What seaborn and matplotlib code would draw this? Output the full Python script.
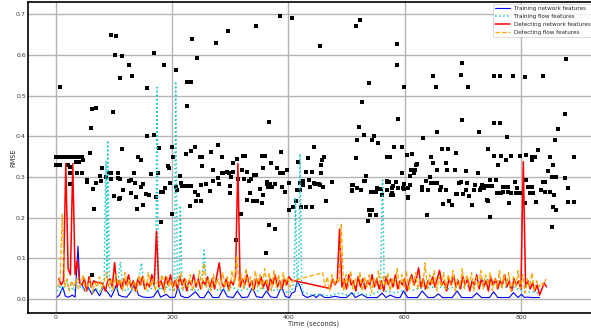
import numpy as np
import matplotlib
matplotlib.use("Agg")
import matplotlib.pyplot as plt
import seaborn as sns

# RMSE per sample (black dots)
dot_x = [
    0.6, 3.4, 9, 12, 15, 18, 21, 24, 29.5, 32,
    36.5, 41, 45, 0.6, 6.3, 21, 25, 35, 39, 46.5,
    59, 23.6, 36, 45, 24.7, 53.5, 53.5, 63, 69, 77,
    75, 79, 87, 91, 94, 95, 114, 106, 110, 106,
    100, 110, 115.5, 125, 130, 134.5, 136, 150, 147, 129,
    138.5, 150, 140, 65.5, 155, 160, 141, 146, 164, 173,
    180.5, 184.5, 187, 196, 175, 193, 194, 200.6, 199, 200,
    206, 208.6, 216, 217, 222, 226, 232, 213, 223, 231.6,
    239, 247.7, 252, 250.6, 239, 245, 241, 249, 230, 249,
    257.5, 265, 266.7, 269.5, 270.7, 278, 285, 285, 288, 279,
    280.5, 295, 108, 7.5,
    # outliers
    95, 103, 102, 113, 125, 110, 131, 61.5, 69, 60,
    99, 168, 157, 186, 206, 234, 242, 226, 233, 226,
    276, 296, 344, 386, 406, 367, 157, 169, 178, 62.6,
    181, 309, 361.5, 366.7, 377.6, 536.8, 853, 454.1, 516, 522.4,
    587.3, 586.8, 538.5, 598, 526.4, 588, 521.8, 530, 547, 648,
    653.5, 698.3, 697.2, 708.6, 752.9, 764, 787, 807.5, 837.4, 877.6,
    875.9,
    # middle block
    311.5, 322, 326, 354, 360, 388, 370, 305, 304.6, 297,
    320, 329, 340.2, 344.8, 301.7, 314, 323, 335.6, 331.6, 356.3,
    380, 385, 390, 397.7, 300, 299, 363, 368.8, 377.4, 363,
    364.9, 371.8, 389, 350.6, 333.3, 356.3, 328.7, 339, 346, 354,
    319, 394.8, 400.5, 400.5, 408, 421.8, 430.5, 439.7, 413.8, 415,
    419.5, 419.5, 434.8, 445, 453.4, 437, 425.3, 465.5, 475.3, 430.5,
    440.2, 456.3, 456.3, 457.5, 461.5, 416, 433.3, 443.7, 518.4, 544,
    554, 581.6, 596, 515.8, 569, 574.5, 604.6, 613, 532.8, 531,
    511.5, 509.8, 524, 544, 550, 552.8, 570.4, 585.5, 573, 580.5,
    597.7, 570.4, 579, 561.5, 606, 610, 596, 611.5, 618, 616,
    619, 538.5, 544, 541, 550,
    424.6, 435, 444.6, 454.4, 459, 474.5, 508.9, 508.9, 518.1, 524.4,
    530.7, 542.2, 547.4, 556, 558.8, 569.8, 578.4, 579.5, 576.1, 589.3,
    598.3, 599.4, 606.3, 605.2, 609.9, 619.7,
    # right block
    655, 727, 631.6, 776, 863.2, 858.6, 754, 764.4, 698.3, 829,
    665, 675.3, 688, 742.5, 645, 752.8, 765.5, 782.8, 798.9, 808.6,
    818.9, 824, 850, 891, 774, 818.9, 649, 671, 759.7, 854.6,
    620.7, 656, 673.6, 686.2, 705.2, 726.4, 847, 853, 860.3, 876.5,
    643.7, 637.4, 837.4, 841.4, 808.6, 747, 757, 790, 645, 650.6,
    656.3, 696.6, 693.7, 707, 629, 662, 721.3, 733, 739.7, 742.5,
    750, 768.4, 771.3, 778, 793.1, 818.3, 812, 880.5, 735.6, 731,
    640.8, 630.5, 660.3, 671.3, 706.3, 718.4, 729.3, 834.5, 841.4, 850,
    769.5, 777.6, 802.6, 798.6, 758, 761.5, 765.5, 782.8, 791.4, 816,
    821.3, 688, 690.8, 701, 711.5, 857, 743.7, 740.8, 676.4, 826,
    880.5, 891, 779.9, 806.9, 666, 715.5, 681, 856, 861, 639,
    747,
]
dot_y = [
    .35, .35, .35, .35, .35, .35, .35, .35, .35, .35,
    .35, .35, .35, .329, .329, .329, .325, .338, .338, .342,
    .36, .309, .309, .309, .282, .292, .287, .271, .286, .29,
    .303, .321, .301, .309, .294, .309, .37, .297, .294, .31,
    .253, .248, .269, .29, .292, .31, .286, .284, .276, .262,
    .25, .232, .222, .221, .258, .256, .35, .342, .307, .25,
    .264, .264, .272, .286, .309, .327, .321, .35, .373, .21,
    .276, .268, .286, .277, .277, .277, .277, .303, .357, .365,
    .375, .35, .35, .327, .264, .257, .242, .241, .23, .28,
    .284, .266, .362, .291, .317, .379, .35, .309, .309, .297,
    .284, .312, .246, .52,
    .65, .647, .60, .597, .575, .543, .549, .467, .47, .42,
    .46, .605, .518, .575, .563, .64, .593, .533, .533, .475,
    .63, .659, .67, .696, .69, .434, .40, .403, .372, .06,
    .189, .145, .114, .182, .172, .192, .178, .623, .67, .685,
    .628, .576, .53, .521, .485, .443, .422, .403, .401, .548,
    .52, .579, .55, .521, .548, .548, .548, .545, .548, .589,
    .455,
    .344, .352, .352, .352, .352, .362, .335, .334, .313, .309,
    .317, .313, .306, .306, .301, .294, .294, .294, .291, .321,
    .321, .309, .309, .317, .278, .262, .284, .284, .284, .288,
    .276, .276, .276, .271, .26, .256, .244, .24, .24, .237,
    .21, .264, .286, .22, .227, .227, .227, .227, .24, .268,
    .268, .286, .292, .284, .284, .276, .291, .241, .288, .313,
    .313, .309, .329, .342, .35, .338, .346, .375, .39, .39,
    .383, .375, .375, .346, .35, .35, .354, .357, .303, .291,
    .28, .268, .268, .264, .264, .272, .288, .288, .288, .277,
    .272, .269, .26, .256, .25, .28, .309, .317, .317, .309,
    .329, .22, .22, .207, .207,
    .28, .293, .286, .28, .276, .288, .28, .266, .274, .268,
    .291, .263, .263, .271, .271, .29, .274, .257, .256, .274,
    .283, .27, .274, .249, .302, .329,
    .411, .411, .397, .399, .417, .391, .433, .433, .44, .366,
    .369, .369, .36, .369, .35, .351, .351, .351, .351, .354,
    .35, .35, .35, .35, .342, .342, .335, .335, .33, .33,
    .331, .317, .317, .317, .314, .31, .314, .3, .3, .297,
    .3, .29, .288, .288, .292, .292, .292, .288, .286, .286,
    .286, .288, .285, .285, .276, .276, .28, .28, .278, .278,
    .278, .276, .276, .276, .274, .276, .276, .272, .272, .272,
    .268, .268, .268, .268, .268, .268, .267, .268, .264, .264,
    .264, .264, .262, .262, .26, .26, .26, .26, .26, .26,
    .26, .259, .259, .259, .254, .256, .241, .243, .241, .239,
    .239, .239, .237, .235, .233, .231, .231, .226, .219, .207,
    .201,
]

# Training network features
train_net_t = [
    2, 6, 9, 12, 16, 20, 24, 28, 33, 38,
    41, 45, 50, 55, 62, 68, 75, 82, 90, 95,
    100, 104, 108, 115, 122, 130, 135, 142, 150, 160,
    168, 175, 180, 190, 196, 205, 210, 215, 222, 228,
    240, 248, 255, 262, 270, 280, 288, 295, 305, 312,
    320, 330, 338, 345, 355, 362, 370, 380, 388, 395,
    402, 406, 411, 415, 420, 425, 432, 443, 448, 454,
    462, 470, 480, 490, 500, 509, 515, 526, 535, 545,
    553, 561, 568, 575, 585, 592, 598, 605, 615, 622,
    630, 640, 650, 658, 665, 675, 682, 690, 698, 708,
    716, 724, 732, 740, 746, 753, 760, 770, 780, 787,
    795, 801, 806, 810, 820, 832,
]
train_net_v = [
    .005, .01, .02, .03, .008, .005, .006, .01, .005, .13,
    .04, .035, .02, .03, .012, .025, .008, .03, .015, .005,
    .02, .035, .01, .006, .005, .02, .04, .01, .005, .004,
    .006, .022, .005, .012, .004, .005, .03, .008, .004, .004,
    .018, .004, .004, .02, .004, .004, .025, .006, .004, .02,
    .004, .005, .028, .006, .004, .02, .005, .004, .03, .006,
    .004, .015, .018, .045, .032, .01, .004, .01, .004, .012,
    .004, .004, .007, .004, .004, .016, .004, .012, .004, .004,
    .004, .015, .004, .01, .004, .004, .02, .004, .004, .004,
    .02, .004, .004, .013, .004, .004, .004, .02, .004, .004,
    .004, .015, .004, .004, .004, .018, .004, .004, .004, .016,
    .004, .012, .004, .005, .004, .004,
]

# Training flow features
train_flow_t = [
    2, 6, 10, 14, 18, 22, 26, 30, 34, 38,
    42, 46, 50, 55, 60, 65, 70, 75, 79, 83,
    86, 88, 89, 92, 96, 100, 105, 111, 115, 120,
    125, 130, 135, 140, 147, 152, 158, 163, 168, 172,
    174, 176, 180, 185, 190, 195, 200, 204, 206, 209,
    212, 214, 217, 222, 228, 235, 242, 250, 255, 259,
    265, 272, 280, 288, 295, 302, 310, 318, 325, 332,
    340, 348, 355, 362, 370, 378, 386, 394, 400, 406,
    410, 412, 415, 418, 420, 423, 430, 440, 450, 460,
    470, 480, 490, 500, 510, 520, 530, 540, 550, 558,
    562, 565, 575, 585, 595, 605, 615, 625, 635, 645,
    655, 665, 675, 685, 695, 705, 715, 725, 735, 742,
    750, 760, 770, 780, 787, 795, 805, 815, 822, 830,
]
train_flow_v = [
    .02, .035, .02, .03, .045, .025, .035, .02, .03, .05,
    .03, .025, .035, .02, .03, .02, .025, .02, .03, .05,
    .34, .05, .39, .03, .02, .03, .025, .092, .03, .02,
    .025, .02, .03, .025, .089, .03, .02, .025, .03, .09,
    .52, .02, .03, .02, .03, .025, .02, .03, .535, .02,
    .03, .23, .02, .03, .02, .025, .02, .03, .12, .03,
    .02, .03, .02, .025, .02, .03, .025, .02, .03, .02,
    .025, .02, .03, .02, .025, .02, .03, .02, .015, .02,
    .05, .25, .03, .1, .357, .02, .015, .01, .012, .01,
    .008, .012, .015, .01, .012, .015, .012, .01, .015, .02,
    .293, .02, .018, .015, .02, .025, .022, .028, .025, .03,
    .028, .03, .025, .03, .028, .03, .035, .04, .045, .048,
    .04, .035, .03, .03, .03, .025, .02, .018, .018, .015,
]

# Detecting network features (sampled every 4 s, gap 405-472)
detect_net_t = np.concatenate([np.arange(5, 406, 4), np.arange(472, 845, 4)])
detect_net_v = [
    .05, .035, .045, .333, .075, .06, .333, .06, .095, .04,
    .035, .05, .02, .055, .03, .045, .042, .04, .04, .038,
    .02, .045, .05, .03, .09, .03, .045, .025, .05, .035,
    .06, .03, .045, .02, .05, .035, .055, .025, .04, .03,
    .06, .035, .167, .03, .045, .025, .055, .035, .06, .03,
    .045, .025, .055, .035, .05, .02, .045, .035, .06, .03,
    .05, .025, .045, .035, .055, .03, .05, .025, .06, .089,
    .04, .03, .05, .025, .045, .035, .055, .333, .03, .05,
    .035, .06, .03, .045, .025, .05, .035, .055, .03, .045,
    .02, .05, .035, .06, .03, .045, .025, .05, .035, .055,
    .047,
    .026, .05, .035, .045, .172, .03, .05, .025, .06, .035,
    .045, .02, .055, .03, .05, .025, .045, .035, .06, .03,
    .05, .025, .045, .02, .055, .035, .05, .03, .06, .025,
    .045, .035, .05, .02, .045, .06, .035, .05, .077, .03,
    .05, .025, .045, .035, .055, .03, .05, .071, .035, .045,
    .02, .05, .035, .06, .03, .045, .025, .055, .035, .05,
    .02, .045, .035, .06, .025, .05, .03, .045, .02, .055,
    .035, .05, .025, .045, .035, .06, .03, .045, .02, .05,
    .035, .045, .025, .338, .03, .045, .025, .04, .02, .035,
    .01, .025, .04, .03,
]

# Detecting flow features (sampled every 4 s, gap 407-459)
detect_flow_t = np.concatenate([np.arange(3, 408, 4), np.arange(459, 844, 4)])
detect_flow_v = [
    .03, .045, .209, .03, .05, .02, .045, .03, .05, .025,
    .04, .06, .02, .035, .05, .015, .04, .03, .055, .02,
    .045, .065, .03, .05, .02, .06, .035, .05, .02, .065,
    .03, .05, .025, .045, .02, .06, .035, .055, .02, .065,
    .03, .05, .02, .045, .035, .06, .015, .055, .03, .045,
    .02, .05, .035, .065, .025, .05, .03, .06, .02, .045,
    .035, .07, .025, .088, .03, .05, .02, .06, .035, .05,
    .025, .065, .03, .055, .02, .07, .04, .108, .03, .06,
    .025, .075, .035, .055, .02, .07, .03, .06, .025, .075,
    .035, .065, .02, .07, .03, .06, .025, .065, .035, .055,
    .03, .045,
    .065, .03, .055, .02, .06, .035, .05, .04, .186, .02,
    .06, .03, .07, .025, .05, .035, .065, .02, .055, .03,
    .06, .015, .05, .035, .07, .025, .055, .03, .065, .02,
    .05, .035, .075, .025, .06, .03, .07, .02, .055, .035,
    .065, .025, .05, .03, .089, .025, .06, .035, .07, .02,
    .055, .03, .065, .025, .06, .035, .07, .02, .05, .03,
    .075, .025, .06, .035, .065, .02, .055, .03, .07, .025,
    .06, .035, .065, .02, .05, .03, .07, .025, .06, .035,
    .065, .02, .055, .03, .07, .025, .06, .015, .05, .03,
    .065, .02, .045, .03, .04, .035, .05,
]

x_ticks = [0, 200, 400, 600, 800]
y_ticks = [0.0, 0.1, 0.2, 0.3, 0.4, 0.5, 0.6, 0.7]

sns.set_style("whitegrid")
plt.rcParams['font.family'] = ['DejaVu Sans']

fig = plt.figure(figsize=(5.91, 3.32), dpi=100)
ax = fig.add_axes([28 / 591, 19 / 332, 572 / 591, 311 / 332])

sns.scatterplot(x=dot_x, y=dot_y, color="black", marker="s", s=5,
                linewidth=0, ax=ax, zorder=2)

sns.lineplot(x=train_net_t, y=train_net_v, color="#0000ff", lw=0.8,
             label="Training network features", errorbar=None, ax=ax, zorder=3)
sns.lineplot(x=train_flow_t, y=train_flow_v, color="#1ec8c8", lw=1.1, linestyle=":",
             label="Training flow features", errorbar=None, ax=ax, zorder=3)
sns.lineplot(x=detect_net_t, y=detect_net_v, color="#ff0000", lw=1.1,
             label="Detecting network features", errorbar=None, ax=ax, zorder=4)
sns.lineplot(x=detect_flow_t, y=detect_flow_v, color="#ffa500", lw=0.9, linestyle="--",
             dashes=(2.5, 1.2), label="Detecting flow features", errorbar=None, ax=ax, zorder=5)

ax.set_xlim(-48, 936)
ax.set_ylim(-0.034, 0.73)
ax.set_xticks(x_ticks)
ax.set_yticks(y_ticks)
ax.set_xticklabels([str(v) for v in x_ticks])
ax.set_yticklabels([f"{v:.1f}" for v in y_ticks])
ax.tick_params(labelsize=4.5, length=0, pad=1.5, colors="#333333")
ax.grid(True, color="#b4b4b4", lw=1.0)

for s in ax.spines.values():
    s.set_color("black")
    s.set_linewidth(1.2)

ax.set_xlabel("Time (seconds)", fontsize=4.8, color="#333333")
ax.set_ylabel("RMSE", fontsize=4.8, color="#333333")
ax.xaxis.set_label_coords(0.5, -0.024)
ax.yaxis.set_label_coords(-0.02, 0.5)

# legend box starts near x=493 px
leg = ax.legend(loc="upper left", bbox_to_anchor=(493 / 591, 1 - 4 / 332),
                bbox_transform=fig.transFigure, borderaxespad=0,
                fontsize=4.1, labelspacing=0.5, handlelength=2.6,
                handletextpad=0.6, frameon=True)
leg.get_frame().set_edgecolor("#cccccc")
leg.get_frame().set_linewidth(0.6)

fig.savefig("out.png", dpi=100)
